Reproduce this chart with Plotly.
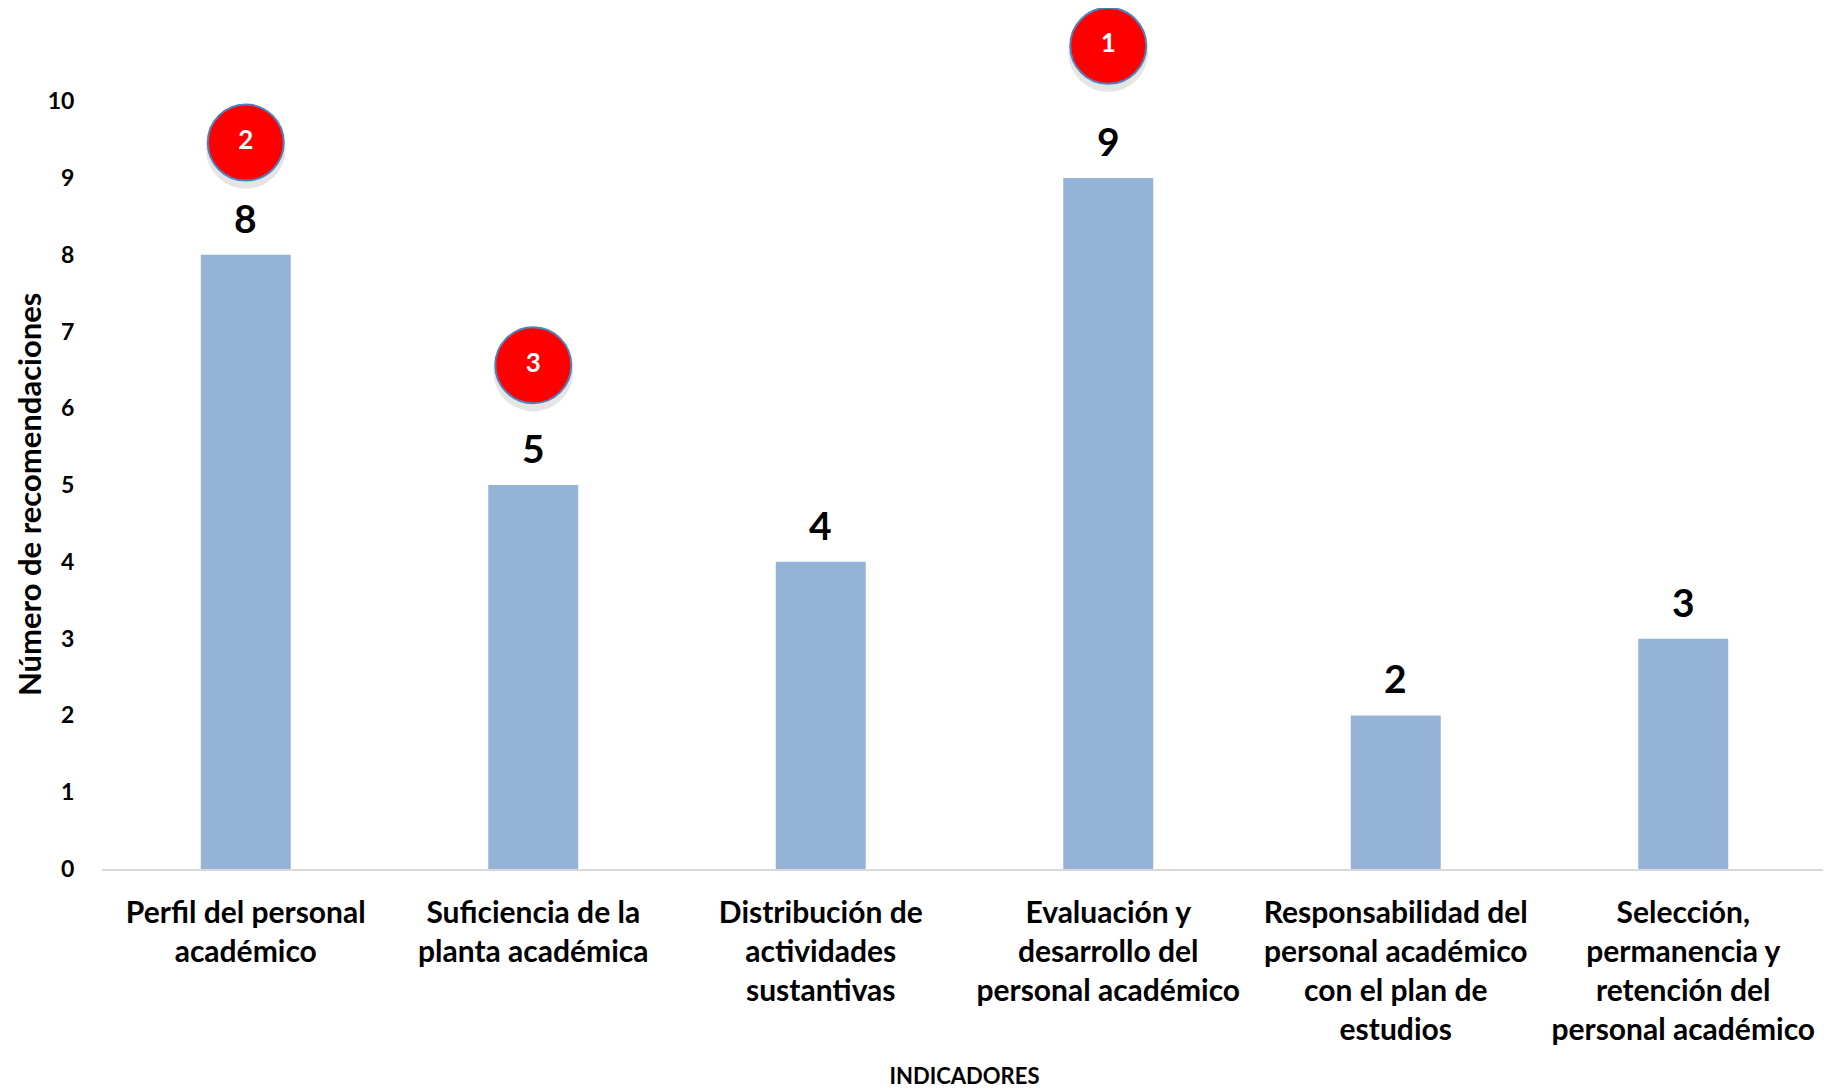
import plotly.graph_objects as go

categories = [
    "Perfil del personal<br>académico",
    "Suficiencia de la<br>planta académica",
    "Distribución de<br>actividades<br>sustantivas",
    "Evaluación y<br>desarrollo del<br>personal académico",
    "Responsabilidad del<br>personal académico<br>con el plan de<br>estudios",
    "Selección,<br>permanencia y<br>retención del<br>personal académico",
]
values = [8, 5, 4, 9, 2, 3]
rank_labels = ["2", "3", None, "1", None, None]
rank_y = [9.46, 6.56, None, 10.72, None, None]
y_ticks = list(range(0, 11))
y_title = "Número de recomendaciones"
x_title = "INDICADORES"

FONT = "Lato, 'Open Sans', Arial, sans-serif"

fig = go.Figure()
fig.add_trace(go.Bar(
    x=categories, y=values,
    marker=dict(color="#95B3D7", line=dict(width=0)),
    hoverinfo="skip", showlegend=False,
))

rx = [c for c, r in zip(categories, rank_labels) if r]
ry = [v for v, r in zip(rank_y, rank_labels) if r]
rt = [r for r in rank_labels if r]

# soft shadow
fig.add_trace(go.Scatter(
    x=rx, y=[v - 0.08 for v in ry], mode="markers",
    marker=dict(size=80, color="rgba(0,0,0,0.10)", line=dict(width=0)),
    cliponaxis=False, hoverinfo="skip", showlegend=False,
))
fig.add_trace(go.Scatter(
    x=rx, y=ry, mode="markers+text", text=rt,
    textposition="middle center",
    textfont=dict(family=FONT, size=26, color="white", weight="bold"),
    marker=dict(size=76, color="#FF0000", line=dict(color="#4F81BD", width=2)),
    cliponaxis=False, hoverinfo="skip", showlegend=False,
))

for c, v in zip(categories, values):
    fig.add_annotation(
        x=c, y=v, text=str(v), showarrow=False,
        yanchor="middle", yshift=37,
        font=dict(family=FONT, size=39, color="black", weight="bold"),
    )

# y-axis title
fig.add_annotation(
    xref="paper", x=0, xanchor="center", xshift=-73,
    yref="y", y=5, yanchor="middle", yshift=-10,
    text=y_title, textangle=-90, showarrow=False,
    font=dict(family=FONT, size=31, color="black", weight="bold"),
)

# the page body adds an 8px offset; margins compensate for it
fig.update_layout(
    width=1823, height=1081,
    margin=dict(l=94, r=4, t=24, b=209),
    paper_bgcolor="white", plot_bgcolor="white",
    bargap=0.687,
    font=dict(family=FONT, color="black"),
)
fig.update_xaxes(
    type="category", tickangle=0,
    showline=True, linecolor="#D9D9D9", linewidth=2,
    showgrid=False, zeroline=False,
    ticks="outside", ticklen=16, tickcolor="rgba(0,0,0,0)",
    tickfont=dict(family=FONT, size=30, color="black", weight="bold"),
    title=dict(text=x_title, font=dict(family=FONT, size=22, color="black", weight="bold"), standoff=24),
)
fig.update_yaxes(
    range=[0, 10.9], tickvals=y_ticks, ticktext=[str(t) for t in y_ticks],
    showline=False, showgrid=False, zeroline=False,
    ticks="outside", ticklen=22, tickcolor="rgba(0,0,0,0)",
    tickfont=dict(family=FONT, size=23, color="black", weight="bold"),
)

fig.write_html("out.html")
